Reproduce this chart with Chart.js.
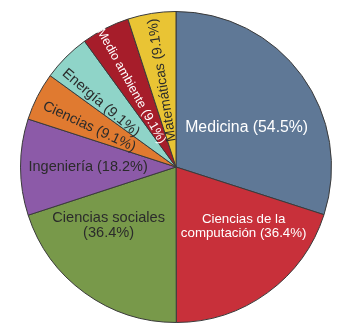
<!DOCTYPE html>
<html>
<head>
<meta charset="utf-8">
<script src="https://cdn.jsdelivr.net/npm/chart.js@4"></script>
<style>
  html, body { margin: 0; padding: 0; background: #fff; }
  #wrap { width: 348px; height: 332px; }
</style>
</head>
<body>
<div id="wrap"><canvas id="pie"></canvas></div>
<script>
'use strict';

const categories = ['Medicina', 'Ciencias de la computación', 'Ciencias sociales', 'Ingeniería',
  'Ciencias', 'Energía', 'Medio ambiente', 'Matemáticas'];
const shares = [54.5, 36.4, 36.4, 18.2, 9.1, 9.1, 9.1, 9.1];
const colors = ['#5f7896', '#c8303a', '#78994a', '#8c5aa8', '#e07a30', '#8fd4c8', '#a61d2a', '#e9c434'];
const labelLines = [
  ['Medicina (54.5%)'],
  ['Ciencias de la', 'computación (36.4%)'],
  ['Ciencias sociales', '(36.4%)'],
  ['Ingeniería (18.2%)'],
  ['Ciencias (9.1%)'],
  ['Energía (9.1%)'],
  ['Medio ambiente (9.1%)'],
  ['Matemáticas (9.1%)']
];

// how each label sits: h = horizontal, in = along radius reading inward, out = reading outward
const labelStyle = [
  { mode: 'h', r: 0.52, dA: 7, size: 15.8, color: '#fff' },
  { mode: 'h', r: 0.58, dA: -12.5, size: 13.3, color: '#fff' },
  { mode: 'h', r: 0.575, dA: 13, size: 14.6, color: '#2b2b2b' },
  { mode: 'h', r: 0.565, dA: 0, size: 14.5, color: '#2b2b2b' },
  { mode: 'in', r: 0.615, dA: -2, size: 14.3, color: '#2b2b2b' },
  { mode: 'in', r: 0.635, dA: -4.5, size: 14.4, color: '#2b2b2b' },
  { mode: 'in', r: 0.595, dA: -2, size: 12.5, color: '#fff' },
  { mode: 'out', r: 0.565, dA: 0, size: 14, color: '#2b2b2b' }
];

const sliceLabels = {
  id: 'sliceLabels',
  afterDatasetsDraw(chart) {
    const ctx = chart.ctx;
    const arcs = chart.getDatasetMeta(0).data;
    arcs.forEach((arc, i) => {
      const st = labelStyle[i];
      const mid = (arc.startAngle + arc.endAngle) / 2 + st.dA * Math.PI / 180;
      const rr = arc.outerRadius * st.r;
      const x = arc.x + Math.cos(mid) * rr;
      const y = arc.y + Math.sin(mid) * rr;
      ctx.save();
      ctx.translate(x, y);
      if (st.mode === 'in') ctx.rotate(mid + Math.PI);
      else if (st.mode === 'out') ctx.rotate(mid);
      ctx.font = st.size + 'px "Liberation Sans", Arial, sans-serif';
      ctx.fillStyle = st.color;
      ctx.textAlign = 'center';
      ctx.textBaseline = 'middle';
      const lines = labelLines[i];
      const lh = st.size * 1.05;
      lines.forEach((t, k) => {
        ctx.fillText(t, 0, (k - (lines.length - 1) / 2) * lh);
      });
      ctx.restore();
    });
  }
};

new Chart(document.getElementById('pie').getContext('2d'), {
  type: 'pie',
  data: {
    labels: categories,
    datasets: [{
      data: shares,
      backgroundColor: colors,
      borderColor: '#3a3a3a',
      borderWidth: 1
    }]
  },
  options: {
    responsive: true,
    maintainAspectRatio: false,
    animation: false,
    layout: { padding: { left: 20, right: 16, top: 10, bottom: 8 } },
    plugins: {
      legend: { display: false },
      tooltip: { enabled: false }
    }
  },
  plugins: [sliceLabels]
});
</script>
</body>
</html>
